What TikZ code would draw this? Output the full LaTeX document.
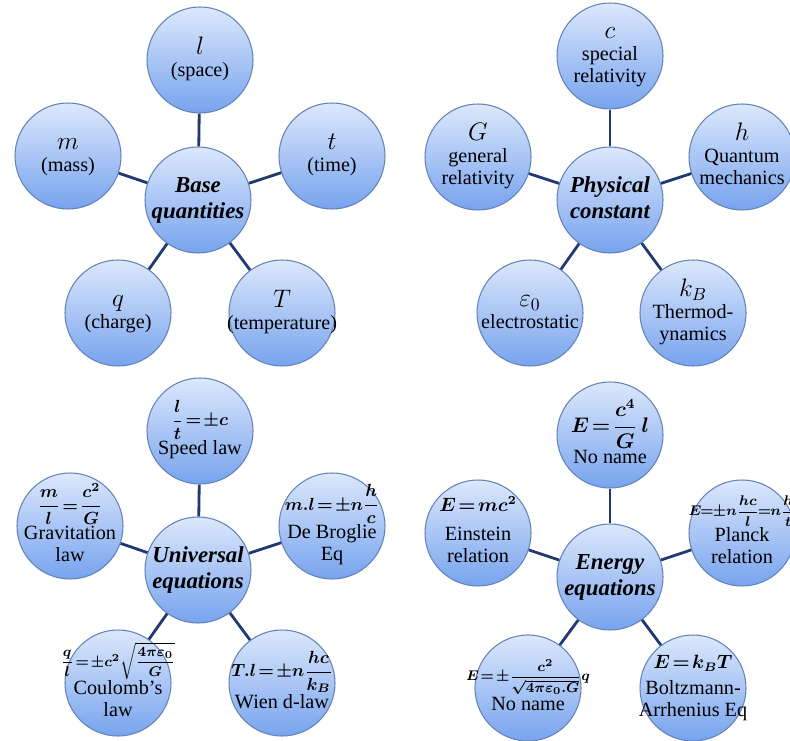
\documentclass[tikz,border=0pt]{standalone}
\usepackage{amsmath, amssymb}
\usepackage{fontspec}
\setmainfont{Liberation Serif}
\usepackage{tikz}
\usepackage{xcolor}
\definecolor{balltop}{HTML}{DCE8FC}
\definecolor{ballbot}{HTML}{77A3EE}
\definecolor{ballrim}{HTML}{6483B8}
\definecolor{spokecol}{HTML}{1F3A70}
% text of a ball, centred, allowed to run over the rim
\newcommand{\balltext}[1]{\makebox[0pt]{\begin{tabular}{@{}c@{}}#1\end{tabular}}}
% symbol line and equation line
\newcommand{\qsym}[1]{{\fontsize{14}{15}\selectfont$#1$}}
\newcommand{\eqline}[2][10]{{\fontsize{#1}{11}\selectfont\boldmath
  \thickmuskip=2mu\medmuskip=1.5mu$#2$}}

\begin{document}
\begin{tikzpicture}[scale=1.0,
  ball/.style={circle,minimum size=2.12cm,inner sep=0pt,top color=balltop,
    bottom color=ballbot,draw=ballrim,line width=0.6pt,
    font=\fontsize{11.5}{12.5}\selectfont},
  hub/.style={ball,font=\fontsize{13}{15}\selectfont\bfseries\itshape},
  spoke/.style={line width=1.6pt,draw=spokecol}]
  \useasboundingbox (0,0) rectangle (15.8,14.8);

  % Base quantities
  \node[hub] (bq) at (3.96,10.8) {\balltext{Base\\quantities}};
  \node[ball] (bq-l) at (4.0,13.6) {\balltext{\qsym{l}\\(space)}};
  \node[ball] (bq-m) at (1.36,11.68) {\balltext{\qsym{m}\\(mass)}};
  \node[ball] (bq-t) at (6.64,11.68) {\balltext{\qsym{t}\\(time)}};
  \node[ball] (bq-q) at (2.36,8.54) {\balltext{\qsym{q}\\(charge)}};
  \node[ball] (bq-T) at (5.64,8.54) {\balltext{\qsym{T}\\(temperature)}};
  \foreach \s in {l,m,t,q,T}
    \draw[spoke] (bq) -- (bq-\s);

  % Physical constant
  \node[hub] (pc) at (12.2,10.8) {\balltext{Physical\\constant}};
  \node[ball] (pc-c) at (12.2,13.68) {\balltext{\qsym{c}\\special\\relativity}};
  \node[ball] (pc-G) at (9.56,11.66) {\balltext{\qsym{G}\\general\\relativity}};
  \node[ball] (pc-h) at (14.84,11.66) {\balltext{\qsym{h}\\Quantum\\mechanics}};
  \node[ball] (pc-e) at (10.6,8.54) {\balltext{\qsym{\varepsilon_0}\\electrostatic}};
  \node[ball] (pc-k) at (13.86,8.54) {\balltext{\qsym{k_B}\\Thermod-\\ynamics}};
  \foreach \s in {c,G,h,e,k}
    \draw[spoke] (pc) -- (pc-\s);

  % Universal equations
  \node[hub] (ue) at (3.96,3.4) {\balltext{Universal\\equations}};
  \node[ball] (ue-s) at (4.0,6.18)
    {\balltext{\eqline{\dfrac{l}{t}=\pm c}\\[4pt]Speed law}};
  \node[ball] (ue-g) at (1.4,4.28)
    {\balltext{\eqline{\dfrac{m}{l}=\dfrac{c^2}{G}}\\[2pt]Gravitation\\law}};
  \node[ball] (ue-b) at (6.64,4.28)
    {\balltext{\eqline{m.l=\pm n\dfrac{h}{c}}\\[2pt]De Broglie\\Eq}};
  \node[ball] (ue-c) at (2.36,1.14)
    {\balltext{\eqline[8.5]{\dfrac{q}{l}=\pm c^2\sqrt{\dfrac{4\pi\varepsilon_0}{G}}}\\Coulomb's\\law}};
  \node[ball] (ue-w) at (5.64,1.14)
    {\balltext{\eqline{T.l=\pm n\dfrac{hc}{k_B}}\\[3pt]Wien d-law}};
  \foreach \s in {s,g,b,c,w}
    \draw[spoke] (ue) -- (ue-\s);

  % Energy equations
  \node[hub] (ee) at (12.2,3.26) {\balltext{Energy\\equations}};
  \node[ball] (ee-t) at (12.2,6.1)
    {\balltext{\eqline[12]{E=\dfrac{c^4}{G}\,l}\\No name}};
  \node[ball] (ee-e) at (9.56,4.14)
    {\balltext{\eqline[10.5]{E=mc^2}\\[4pt]Einstein\\relation}};
  \node[ball] (ee-p) at (14.84,4.14)
    {\balltext{\eqline[7.8]{E\!=\!\pm n\dfrac{hc}{l}\!=\!n\dfrac{h}{t}}\\[2pt]Planck\\relation}};
  \node[ball] (ee-n) at (10.56,1.04)
    {\balltext{\eqline[8.5]{E=\pm\dfrac{c^2}{\sqrt{4\pi\varepsilon_0.G}}q}\\No name}};
  \node[ball] (ee-b) at (13.86,1.04)
    {\balltext{\eqline[10.5]{E=k_BT}\\[2pt]Boltzmann-\\Arrhenius Eq}};
  \foreach \s in {t,e,p,n,b}
    \draw[spoke] (ee) -- (ee-\s);
\end{tikzpicture}
\end{document}
